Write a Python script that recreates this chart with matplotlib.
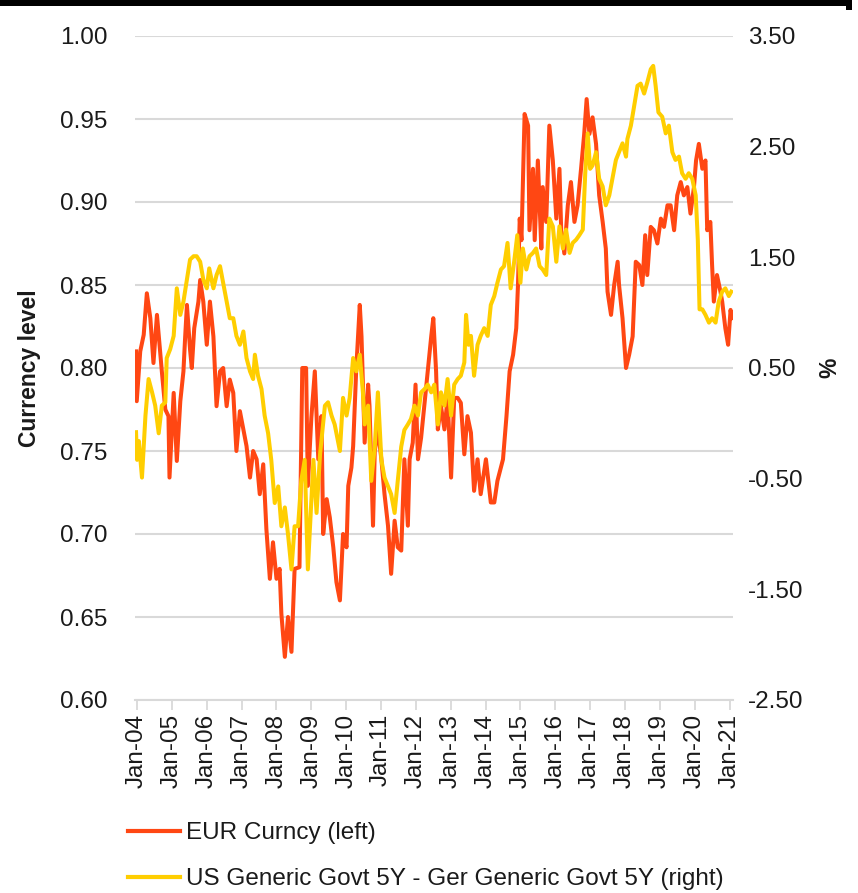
import matplotlib

matplotlib.use("Agg")
import matplotlib.pyplot as plt
from matplotlib.patches import Rectangle
from matplotlib.lines import Line2D

plt.rcParams["font.family"] = ["Liberation Sans", "DejaVu Sans"]

# EUR Curncy (left axis)
eur_year = [
    2003.97, 2003.99, 2004.09, 2004.19, 2004.28, 2004.38, 2004.47, 2004.57, 2004.66, 2004.71,
    2004.81, 2004.90, 2004.93, 2005.05, 2005.14, 2005.24, 2005.33, 2005.38, 2005.43, 2005.52,
    2005.57, 2005.64, 2005.76, 2005.81, 2005.90, 2006.00, 2006.09, 2006.19, 2006.28, 2006.38,
    2006.47, 2006.57, 2006.66, 2006.76, 2006.85, 2006.95, 2007.05, 2007.14, 2007.24, 2007.33,
    2007.43, 2007.52, 2007.62, 2007.71, 2007.81, 2007.90, 2008.00, 2008.09, 2008.14, 2008.24,
    2008.33, 2008.43, 2008.52, 2008.66, 2008.74, 2008.85, 2008.90, 2009.00, 2009.10, 2009.20,
    2009.29, 2009.34, 2009.44, 2009.53, 2009.63, 2009.72, 2009.82, 2009.91, 2010.01, 2010.06,
    2010.15, 2010.20, 2010.29, 2010.39, 2010.44, 2010.53, 2010.63, 2010.67, 2010.77, 2010.82,
    2010.91, 2011.01, 2011.10, 2011.20, 2011.29, 2011.39, 2011.48, 2011.58, 2011.67, 2011.77,
    2011.82, 2011.91, 2011.99, 2012.06, 2012.15, 2012.25, 2012.34, 2012.44, 2012.50, 2012.58,
    2012.63, 2012.72, 2012.82, 2012.91, 2013.01, 2013.10, 2013.20, 2013.29, 2013.39, 2013.48,
    2013.58, 2013.67, 2013.77, 2013.86, 2014.01, 2014.15, 2014.25, 2014.34, 2014.44, 2014.50,
    2014.60, 2014.69, 2014.79, 2014.88, 2014.93, 2014.98, 2015.03, 2015.12, 2015.22, 2015.26,
    2015.36, 2015.41, 2015.50, 2015.60, 2015.64, 2015.74, 2015.83, 2015.93, 2016.03, 2016.12,
    2016.17, 2016.26, 2016.36, 2016.45, 2016.55, 2016.64, 2016.74, 2016.83, 2016.90, 2016.98,
    2017.07, 2017.17, 2017.26, 2017.36, 2017.45, 2017.50, 2017.60, 2017.69, 2017.79, 2017.83,
    2017.93, 2018.03, 2018.12, 2018.22, 2018.31, 2018.41, 2018.50, 2018.58, 2018.64, 2018.74,
    2018.83, 2018.93, 2019.03, 2019.12, 2019.22, 2019.31, 2019.41, 2019.50, 2019.60, 2019.69,
    2019.79, 2019.88, 2019.98, 2020.04, 2020.12, 2020.22, 2020.31, 2020.36, 2020.45, 2020.50,
    2020.55, 2020.64, 2020.74, 2020.79, 2020.88, 2020.96, 2021.03, 2021.07,
]
eur_level = [
    0.810, 0.780, 0.810, 0.820, 0.845, 0.830, 0.803, 0.832, 0.810, 0.798,
    0.775, 0.771, 0.734, 0.785, 0.744, 0.780, 0.798, 0.819, 0.838, 0.811,
    0.800, 0.824, 0.840, 0.853, 0.840, 0.814, 0.840, 0.819, 0.777, 0.798,
    0.800, 0.777, 0.793, 0.785, 0.750, 0.774, 0.763, 0.753, 0.734, 0.750,
    0.745, 0.724, 0.742, 0.703, 0.673, 0.695, 0.673, 0.679, 0.652, 0.626,
    0.650, 0.629, 0.679, 0.680, 0.800, 0.800, 0.729, 0.770, 0.798, 0.745,
    0.771, 0.700, 0.721, 0.710, 0.692, 0.671, 0.660, 0.700, 0.692, 0.729,
    0.740, 0.753, 0.800, 0.838, 0.819, 0.755, 0.790, 0.777, 0.705, 0.750,
    0.763, 0.745, 0.724, 0.705, 0.676, 0.708, 0.692, 0.690, 0.745, 0.705,
    0.745, 0.755, 0.790, 0.745, 0.758, 0.779, 0.798, 0.819, 0.830, 0.798,
    0.763, 0.777, 0.763, 0.782, 0.734, 0.782, 0.782, 0.779, 0.748, 0.771,
    0.761, 0.726, 0.745, 0.724, 0.745, 0.719, 0.719, 0.732, 0.740, 0.745,
    0.771, 0.798, 0.808, 0.824, 0.850, 0.890, 0.877, 0.953, 0.946, 0.883,
    0.920, 0.877, 0.925, 0.872, 0.909, 0.888, 0.946, 0.925, 0.890, 0.920,
    0.883, 0.869, 0.898, 0.912, 0.888, 0.898, 0.920, 0.941, 0.962, 0.941,
    0.951, 0.935, 0.904, 0.888, 0.872, 0.846, 0.832, 0.850, 0.864, 0.850,
    0.830, 0.800, 0.808, 0.819, 0.864, 0.862, 0.850, 0.880, 0.856, 0.885,
    0.883, 0.875, 0.890, 0.885, 0.898, 0.898, 0.883, 0.904, 0.912, 0.904,
    0.909, 0.893, 0.909, 0.925, 0.935, 0.920, 0.925, 0.883, 0.888, 0.862,
    0.840, 0.856, 0.846, 0.840, 0.824, 0.814, 0.835, 0.830,
]

# US 5Y minus German 5Y yield spread in % (right axis)
spread_year = [
    2003.97, 2004.00, 2004.05, 2004.14, 2004.24, 2004.33, 2004.43, 2004.52, 2004.62, 2004.71,
    2004.81, 2004.85, 2004.95, 2005.05, 2005.14, 2005.24, 2005.33, 2005.43, 2005.52, 2005.62,
    2005.71, 2005.81, 2005.90, 2006.00, 2006.07, 2006.19, 2006.28, 2006.38, 2006.47, 2006.57,
    2006.66, 2006.76, 2006.85, 2006.95, 2007.05, 2007.14, 2007.24, 2007.33, 2007.38, 2007.47,
    2007.57, 2007.66, 2007.76, 2007.85, 2007.95, 2008.05, 2008.14, 2008.24, 2008.33, 2008.43,
    2008.52, 2008.62, 2008.71, 2008.81, 2008.90, 2009.06, 2009.15, 2009.25, 2009.39, 2009.48,
    2009.58, 2009.67, 2009.82, 2009.91, 2010.01, 2010.10, 2010.20, 2010.29, 2010.39, 2010.48,
    2010.53, 2010.63, 2010.72, 2010.82, 2010.91, 2011.01, 2011.10, 2011.20, 2011.29, 2011.39,
    2011.48, 2011.58, 2011.67, 2011.77, 2011.86, 2011.96, 2012.06, 2012.15, 2012.25, 2012.34,
    2012.44, 2012.53, 2012.63, 2012.72, 2012.82, 2012.91, 2013.01, 2013.10, 2013.20, 2013.29,
    2013.39, 2013.44, 2013.51, 2013.58, 2013.67, 2013.77, 2013.86, 2013.96, 2014.06, 2014.15,
    2014.25, 2014.34, 2014.44, 2014.53, 2014.63, 2014.72, 2014.82, 2014.91, 2015.00, 2015.07,
    2015.17, 2015.26, 2015.36, 2015.45, 2015.55, 2015.64, 2015.74, 2015.83, 2015.93, 2016.03,
    2016.12, 2016.22, 2016.31, 2016.41, 2016.50, 2016.60, 2016.69, 2016.79, 2016.86, 2016.93,
    2017.00, 2017.07, 2017.17, 2017.26, 2017.36, 2017.45, 2017.55, 2017.64, 2017.74, 2017.83,
    2017.93, 2018.03, 2018.07, 2018.17, 2018.26, 2018.36, 2018.45, 2018.55, 2018.64, 2018.74,
    2018.81, 2018.88, 2018.96, 2019.07, 2019.17, 2019.26, 2019.36, 2019.45, 2019.55, 2019.64,
    2019.74, 2019.83, 2019.93, 2020.03, 2020.09, 2020.14, 2020.22, 2020.31, 2020.41, 2020.50,
    2020.60, 2020.69, 2020.79, 2020.88, 2020.98, 2021.05,
]
spread_pct = [
    -0.08, -0.33, -0.16, -0.49, 0.07, 0.40, 0.28, 0.16, -0.09, 0.16,
    0.19, 0.59, 0.67, 0.79, 1.22, 0.98, 1.10, 1.30, 1.48, 1.51,
    1.51, 1.46, 1.30, 1.22, 1.40, 1.22, 1.34, 1.42, 1.27, 1.10,
    0.95, 0.95, 0.79, 0.71, 0.83, 0.59, 0.47, 0.40, 0.62, 0.43,
    0.31, 0.07, -0.09, -0.33, -0.72, -0.57, -0.93, -0.76, -1.00, -1.32,
    -0.93, -0.93, -0.52, -0.33, -1.32, -0.33, -0.81, -0.28, 0.16, 0.19,
    0.07, -0.01, -0.25, 0.23, 0.07, 0.23, 0.59, 0.47, 0.62, 0.28,
    -0.01, 0.16, -0.52, -0.21, 0.28, -0.33, -0.49, -0.57, -0.64, -0.81,
    -0.52, -0.21, -0.06, -0.01, 0.04, 0.16, 0.07, 0.28, 0.31, 0.35,
    0.28, 0.35, -0.01, 0.28, 0.16, 0.40, 0.07, 0.35, 0.40, 0.43,
    0.55, 0.98, 0.71, 0.79, 0.43, 0.71, 0.79, 0.86, 0.79, 1.07,
    1.15, 1.27, 1.39, 1.42, 1.63, 1.22, 1.46, 1.70, 1.27, 1.58,
    1.39, 1.51, 1.54, 1.58, 1.42, 1.39, 1.34, 1.85, 1.78, 1.46,
    1.78, 1.58, 1.75, 1.54, 1.63, 1.66, 1.70, 1.75, 2.26, 2.62,
    2.30, 2.33, 2.45, 2.21, 2.14, 1.97, 2.06, 2.21, 2.38, 2.45,
    2.53, 2.41, 2.57, 2.69, 2.86, 3.05, 3.07, 2.98, 3.08, 3.20,
    3.23, 3.05, 2.81, 2.77, 2.62, 2.69, 2.45, 2.38, 2.41, 2.26,
    2.21, 2.26, 2.21, 2.06, 1.66, 1.03, 1.03, 0.98, 0.91, 0.95,
    0.91, 1.10, 1.19, 1.22, 1.15, 1.19,
]

tick_years = list(range(2004, 2022))
tick_labels = [f"Jan-{y % 100:02d}" for y in tick_years]
left_ticks = [0.60, 0.65, 0.70, 0.75, 0.80, 0.85, 0.90, 0.95, 1.00]
right_ticks = [-2.5, -1.5, -0.5, 0.5, 1.5, 2.5, 3.5]

RED = "#FF4713"
YELLOW = "#FFCE00"
GRID = "#d9d9d9"
TEXT = "#1a1a1a"

W, H = 858, 893
fig = plt.figure(figsize=(W / 100, H / 100), dpi=100)
ax = fig.add_axes([135 / W, 193 / H, 598 / W, 664 / H])
ax2 = ax.twinx()

ax.plot(eur_year, eur_level, color=RED, linewidth=2.9, solid_joinstyle="round")
ax2.plot(spread_year, spread_pct, color=YELLOW, linewidth=2.9, solid_joinstyle="round")

ax.set_xlim(2003.94, 2021.1)
ax.set_ylim(0.60, 1.00)
ax2.set_ylim(-2.5, 3.5)

ax.set_yticks(left_ticks)
ax.set_yticklabels([f"{v:.2f}" for v in left_ticks])
ax2.set_yticks(right_ticks)
ax2.set_yticklabels([f"{v:.2f}" for v in right_ticks])
ax.set_xticks(tick_years)
ax.set_xticklabels(tick_labels, rotation=90)

ax.grid(axis="y", color=GRID, linewidth=1.5)
ax.set_axisbelow(True)
for a in (ax, ax2):
    for side in ("top", "left", "right", "bottom"):
        a.spines[side].set_visible(False)
ax.spines["bottom"].set_visible(True)
ax.spines["bottom"].set_color(GRID)
ax.spines["bottom"].set_linewidth(1.5)

ax.tick_params(axis="y", length=0, pad=20, labelsize=17.5, labelcolor=TEXT)
ax2.tick_params(axis="y", length=0, pad=11, labelsize=17.5, labelcolor=TEXT)
ax.tick_params(axis="x", length=7, width=1.3, color=GRID, pad=3, labelsize=17.5, labelcolor=TEXT)

ax.set_ylabel("Currency level", fontsize=16.5, fontweight="bold", color=TEXT)
ax.yaxis.set_label_coords(-(135 - 41) / 598, 0.5)
ax2.set_ylabel("%", fontsize=16.5, fontweight="bold", color=TEXT)
ax2.yaxis.set_label_coords((818 - 135) / 598, 0.5)

# black bar across the top
fig.patches.append(Rectangle((0, 1 - 6 / H), 852 / W, 6 / H, transform=fig.transFigure,
                             facecolor="black", edgecolor="none"))
fig.patches.append(Rectangle((846 / W, 1 - 10 / H), 6 / W, 10 / H, transform=fig.transFigure,
                             facecolor="black", edgecolor="none"))

handles = [Line2D([], [], color=RED, linewidth=3), Line2D([], [], color=YELLOW, linewidth=3)]
labels = ["EUR Curncy (left)", "US Generic Govt 5Y - Ger Generic Govt 5Y (right)"]
fig.legend(handles, labels, loc="upper left", bbox_to_anchor=(128 / W, 1 - 822 / H),
           frameon=False, fontsize=17.5, borderpad=0, borderaxespad=0,
           handlelength=2.15, handletextpad=0.25, labelspacing=1.0, labelcolor=TEXT)

fig.savefig("out.png", dpi=100)
